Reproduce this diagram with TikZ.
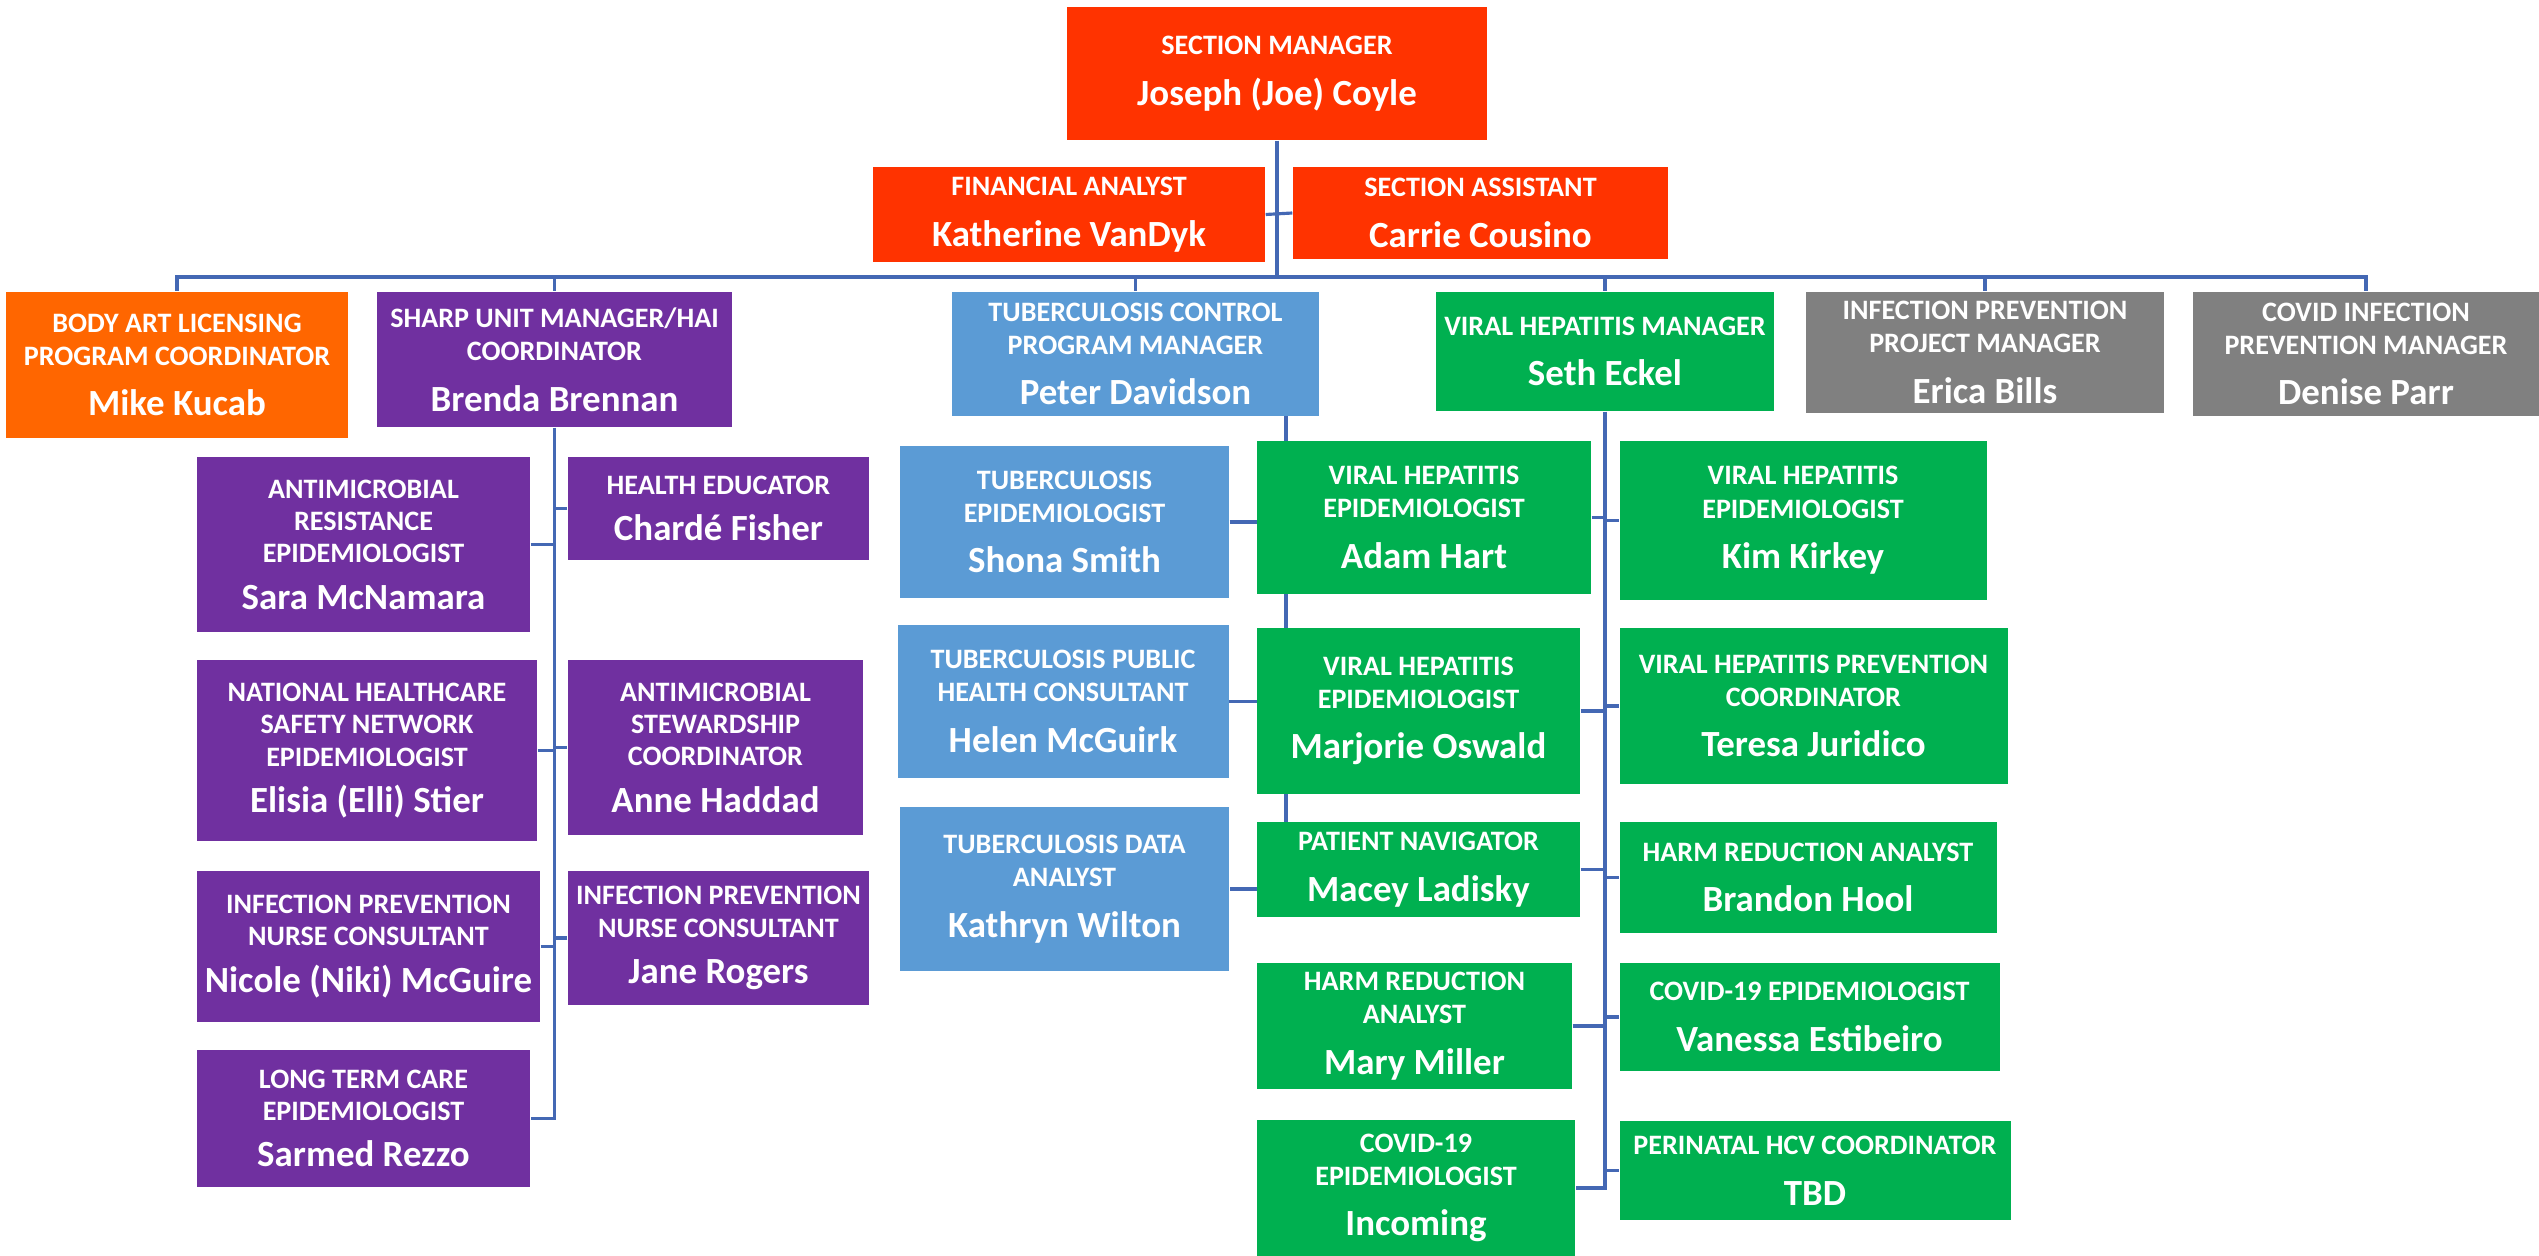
\documentclass[tikz,border=0pt]{standalone}
\usepackage{fontspec}
\setmainfont{Carlito}
\usepackage{tikz}
\usetikzlibrary{backgrounds}
\definecolor{mgrred}{RGB}{255,51,0}
\definecolor{artorange}{RGB}{255,102,0}
\definecolor{haipurple}{RGB}{112,48,160}
\definecolor{tbblue}{RGB}{91,155,213}
\definecolor{vhgreen}{RGB}{0,176,80}
\definecolor{ipgray}{RGB}{128,128,128}
\definecolor{linkblue}{RGB}{68,104,180}
\newcommand{\who}[1]{{\bfseries\fontsize{10.5}{12}\selectfont #1}}
\tikzset{
    box/.style={text=white, align=center, inner sep=1pt, font=\bfseries\fontsize{8}{9.4}\selectfont},
    redbox/.style={box, fill=mgrred},
    orangebox/.style={box, fill=artorange},
    purplebox/.style={box, fill=haipurple, font=\bfseries\fontsize{8}{9.2}\selectfont},
    bluebox/.style={box, fill=tbblue},
    greenbox/.style={box, fill=vhgreen},
    graybox/.style={box, fill=ipgray},
    link/.style={draw=linkblue, line width=0.9pt},
}

\begin{document}
\begin{tikzpicture}
	\useasboundingbox (0,0) rectangle (25.39,-12.56);
	\node[redbox, minimum width=4.20cm, minimum height=1.33cm] (sm) at (12.77,-0.735) {SECTION MANAGER\\[5pt]\who{Joseph (Joe) Coyle}};
	\node[redbox, minimum width=3.92cm, minimum height=0.95cm] (fa) at (10.69,-2.145) {FINANCIAL ANALYST\\[5pt]\who{Katherine VanDyk}};
	\node[redbox, minimum width=3.75cm, minimum height=0.92cm] (sa) at (14.805,-2.13) {SECTION ASSISTANT\\[5pt]\who{Carrie Cousino}};
	\coordinate (bus) at (12.77,-2.77);
	\node[orangebox, minimum width=3.42cm, minimum height=1.46cm] (bodyart) at (1.77,-3.65) {BODY ART LICENSING\\PROGRAM COORDINATOR\\[5pt]\who{Mike Kucab}};
	\node[purplebox, font=\bfseries\fontsize{8}{9.4}\selectfont, minimum width=3.55cm, minimum height=1.35cm] (sharp) at (5.545,-3.595) {SHARP UNIT MANAGER/HAI\\COORDINATOR\\[5pt]\who{Brenda Brennan}};
	\node[bluebox, minimum width=3.67cm, minimum height=1.24cm] (tbmgr) at (11.355,-3.54) {TUBERCULOSIS CONTROL\\PROGRAM MANAGER\\[5pt]\who{Peter Davidson}};
	\node[greenbox, minimum width=3.38cm, minimum height=1.19cm] (vhmgr) at (16.05,-3.515) {VIRAL HEPATITIS MANAGER\\[5pt]\who{Seth Eckel}};
	\node[graybox, minimum width=3.58cm, minimum height=1.21cm] (ipmgr) at (19.85,-3.525) {INFECTION PREVENTION\\PROJECT MANAGER\\[5pt]\who{Erica Bills}};
	\node[graybox, minimum width=3.46cm, minimum height=1.24cm] (covidmgr) at (23.66,-3.54) {COVID INFECTION\\PREVENTION MANAGER\\[5pt]\who{Denise Parr}};

	\node[purplebox, minimum width=3.33cm, minimum height=1.75cm] (sara) at (3.635,-5.445) {ANTIMICROBIAL\\RESISTANCE\\EPIDEMIOLOGIST\\[4pt]\who{Sara McNamara}};
	\node[purplebox, minimum width=3.40cm, minimum height=1.81cm] (elisia) at (3.67,-7.505) {NATIONAL HEALTHCARE\\SAFETY NETWORK\\EPIDEMIOLOGIST\\[4pt]\who{Elisia (Elli) Stier}};
	\node[purplebox, minimum width=3.43cm, minimum height=1.51cm] (nicole) at (3.685,-9.465) {INFECTION PREVENTION\\NURSE CONSULTANT\\[4pt]\who{Nicole (Niki) McGuire}};
	\node[purplebox, minimum width=3.33cm, minimum height=1.37cm] (sarmed) at (3.635,-11.185) {LONG TERM CARE\\EPIDEMIOLOGIST\\[4pt]\who{Sarmed Rezzo}};
	\node[purplebox, minimum width=3.01cm, minimum height=1.03cm] (charde) at (7.185,-5.085) {HEALTH EDUCATOR\\[4pt]\who{Chardé Fisher}};
	\node[purplebox, minimum width=2.95cm, minimum height=1.75cm] (anne) at (7.155,-7.475) {ANTIMICROBIAL\\STEWARDSHIP\\COORDINATOR\\[4pt]\who{Anne Haddad}};
	\node[purplebox, minimum width=3.01cm, minimum height=1.34cm] (jane) at (7.185,-9.38) {INFECTION PREVENTION\\NURSE CONSULTANT\\[4pt]\who{Jane Rogers}};

	\node[bluebox, minimum width=3.29cm, minimum height=1.52cm] (shona) at (10.645,-5.22) {TUBERCULOSIS\\EPIDEMIOLOGIST\\[5pt]\who{Shona Smith}};
	\node[bluebox, minimum width=3.31cm, minimum height=1.53cm] (helen) at (10.63,-7.015) {TUBERCULOSIS PUBLIC\\HEALTH CONSULTANT\\[5pt]\who{Helen McGuirk}};
	\node[bluebox, minimum width=3.29cm, minimum height=1.64cm] (kathryn) at (10.645,-8.89) {TUBERCULOSIS DATA\\ANALYST\\[5pt]\who{Kathryn Wilton}};
	\coordinate (tbtrunk) at (12.86,-4.16);

	\node[greenbox, minimum width=3.34cm, minimum height=1.53cm] (adam) at (14.24,-5.175) {VIRAL HEPATITIS\\EPIDEMIOLOGIST\\[5pt]\who{Adam Hart}};
	\node[greenbox, minimum width=3.23cm, minimum height=1.66cm] (marjorie) at (14.185,-7.11) {VIRAL HEPATITIS\\EPIDEMIOLOGIST\\[5pt]\who{Marjorie Oswald}};
	\node[greenbox, minimum width=3.23cm, minimum height=0.95cm] (macey) at (14.185,-8.695) {PATIENT NAVIGATOR\\[5pt]\who{Macey Ladisky}};
	\node[greenbox, minimum width=3.15cm, minimum height=1.26cm] (mary) at (14.145,-10.26) {HARM REDUCTION\\ANALYST\\[5pt]\who{Mary Miller}};
	\node[greenbox, minimum width=3.18cm, minimum height=1.36cm] (incoming) at (14.16,-11.88) {COVID-19\\EPIDEMIOLOGIST\\[5pt]\who{Incoming}};
	\node[greenbox, minimum width=3.67cm, minimum height=1.59cm] (kim) at (18.03,-5.205) {VIRAL HEPATITIS\\EPIDEMIOLOGIST\\[5pt]\who{Kim Kirkey}};
	\node[greenbox, minimum width=3.88cm, minimum height=1.56cm] (teresa) at (18.135,-7.06) {VIRAL HEPATITIS PREVENTION\\COORDINATOR\\[5pt]\who{Teresa Juridico}};
	\node[greenbox, minimum width=3.77cm, minimum height=1.11cm] (brandon) at (18.08,-8.775) {HARM REDUCTION ANALYST\\[5pt]\who{Brandon Hool}};
	\node[greenbox, minimum width=3.80cm, minimum height=1.08cm] (vanessa) at (18.095,-10.17) {COVID-19 EPIDEMIOLOGIST\\[5pt]\who{Vanessa Estibeiro}};
	\node[greenbox, minimum width=3.91cm, minimum height=0.99cm] (tbd) at (18.15,-11.705) {PERINATAL HCV COORDINATOR\\[5pt]\who{TBD}};

	\begin{pgfonlayer}{background}
	\draw[link] (sm.south) -- (bus);
	\draw[link] (fa.east) -- (sa.west);
	\foreach \b in {bodyart,sharp,tbmgr,vhmgr,ipmgr,covidmgr}
		\draw[link] (bus) -| (\b.north);
	\draw[link] (sharp.south) |- (sarmed.east);
	\foreach \b in {sara,elisia,nicole}
		\draw[link] (\b.east) -- (\b.east -| sharp.south);
	\foreach \b in {charde,anne,jane}
		\draw[link] (\b.west) -- (\b.west -| sharp.south);
	\draw[link] (tbtrunk) |- (kathryn.east);
	\foreach \b in {shona,helen}
		\draw[link] (\b.east) -- (\b.east -| tbtrunk);
	\draw[link] (vhmgr.south) |- (incoming.east);
	\foreach \b in {adam,marjorie,macey,mary}
		\draw[link] (\b.east) -- (\b.east -| vhmgr.south);
	\foreach \b in {kim,teresa,brandon,vanessa,tbd}
		\draw[link] (\b.west) -- (\b.west -| vhmgr.south);
	\end{pgfonlayer}
\end{tikzpicture}
\end{document}
